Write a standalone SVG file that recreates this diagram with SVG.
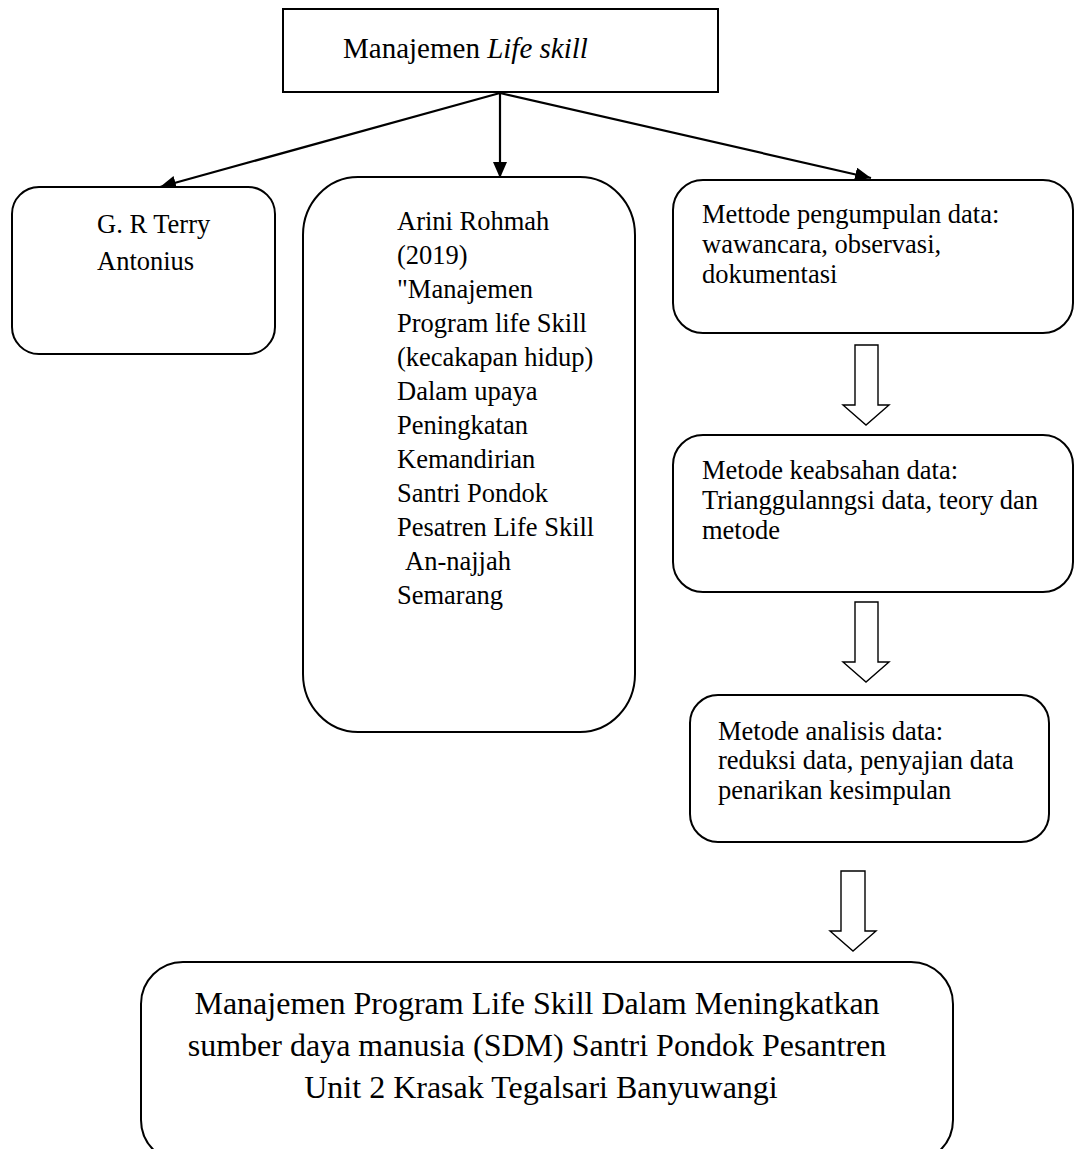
<svg xmlns="http://www.w3.org/2000/svg" width="1075" height="1149" viewBox="0 0 1075 1149">
<style>
.box{fill:#fff;stroke:#000;stroke-width:2}
.t{font-family:"Liberation Serif","Times New Roman",serif;fill:#000}
.conn{stroke:#000;stroke-width:2.2;fill:none}
.hollow{fill:#fff;stroke:#000;stroke-width:1.4;stroke-linejoin:miter}
</style>
<defs>
<marker id="ah" markerWidth="8" markerHeight="8" refX="7" refY="4" orient="auto" markerUnits="userSpaceOnUse" viewBox="0 0 8 8">
<path d="M0,0 L8,4 L0,8 Z" fill="#000"/>
</marker>
<marker id="arr" viewBox="0 0 16 14" refX="16" refY="7" markerWidth="16" markerHeight="14" orient="auto" markerUnits="userSpaceOnUse">
<path d="M0,0 L16,7 L0,14 Z" fill="#000"/>
</marker>
</defs>
<rect width="1075" height="1149" fill="#fff"/>
<g id="connectors">
<line class="conn" x1="500" y1="93" x2="500" y2="178" marker-end="url(#arr)"/>
<line class="conn" x1="500" y1="93" x2="160" y2="187" marker-end="url(#arr)"/>
<line class="conn" x1="500" y1="93" x2="871" y2="178" marker-end="url(#arr)"/>
<path class="hollow" d="M855,345 H878 V405 H889 L866,425 L843,405 H855 Z"/>
<path class="hollow" d="M855,602 H878 V662 H889 L866,682 L843,662 H855 Z"/>
<path class="hollow" d="M841,871 H865 V931 H876 L853,951 L830,931 H841 Z"/>
</g>
<g id="node-title">
<rect class="box" x="283" y="9" width="435" height="83"/>
<text class="t" x="343" y="58" font-size="29">Manajemen <tspan font-style="italic">Life skill</tspan></text>
</g>
<g id="node-terry">
<rect class="box" x="12" y="187" width="263" height="167" rx="27" ry="27"/>
<text class="t" x="97" y="233" font-size="26.5">G. R Terry</text>
<text class="t" x="97" y="270" font-size="26.5">Antonius</text>
</g>
<g id="node-arini">
<rect class="box" x="303" y="177" width="332" height="555" rx="55" ry="58"/>
<text class="t" font-size="26.5">
<tspan x="397" y="230">Arini Rohmah</tspan>
<tspan x="397" y="264">(2019)</tspan>
<tspan x="397" y="298">"Manajemen</tspan>
<tspan x="397" y="332">Program life Skill</tspan>
<tspan x="397" y="366">(kecakapan hidup)</tspan>
<tspan x="397" y="400">Dalam upaya</tspan>
<tspan x="397" y="434">Peningkatan</tspan>
<tspan x="397" y="468">Kemandirian</tspan>
<tspan x="397" y="502">Santri Pondok</tspan>
<tspan x="397" y="536">Pesatren Life Skill</tspan>
<tspan x="405" y="570">An-najjah</tspan>
<tspan x="397" y="604">Semarang</tspan>
</text>
</g>
<g id="node-pengumpulan">
<rect class="box" x="673" y="180" width="400" height="153" rx="30" ry="30"/>
<text class="t" font-size="26.5">
<tspan x="702" y="223">Mettode pengumpulan data:</tspan>
<tspan x="702" y="253">wawancara, observasi,</tspan>
<tspan x="702" y="283">dokumentasi</tspan>
</text>
</g>
<g id="node-keabsahan">
<rect class="box" x="673" y="435" width="400" height="157" rx="30" ry="30"/>
<text class="t" font-size="26.5">
<tspan x="702" y="479">Metode keabsahan data:</tspan>
<tspan x="702" y="509">Trianggulanngsi data, teory dan</tspan>
<tspan x="702" y="539">metode</tspan>
</text>
</g>
<g id="node-analisis">
<rect class="box" x="690" y="695" width="359" height="147" rx="28" ry="28"/>
<text class="t" font-size="26.5">
<tspan x="718" y="740">Metode analisis data:</tspan>
<tspan x="718" y="769">reduksi data, penyajian data</tspan>
<tspan x="718" y="799">penarikan kesimpulan</tspan>
</text>
</g>
<g id="node-result">
<rect class="box" x="141" y="962" width="812" height="200" rx="42" ry="42"/>
<text class="t" font-size="32" text-anchor="middle">
<tspan x="541" y="1014">Manajemen Program Life Skill Dalam Meningkatkan</tspan>
<tspan x="541" y="1056">sumber daya manusia (SDM) Santri Pondok Pesantren</tspan>
<tspan x="541" y="1098">Unit 2 Krasak Tegalsari Banyuwangi</tspan>
</text>
</g>
</svg>
